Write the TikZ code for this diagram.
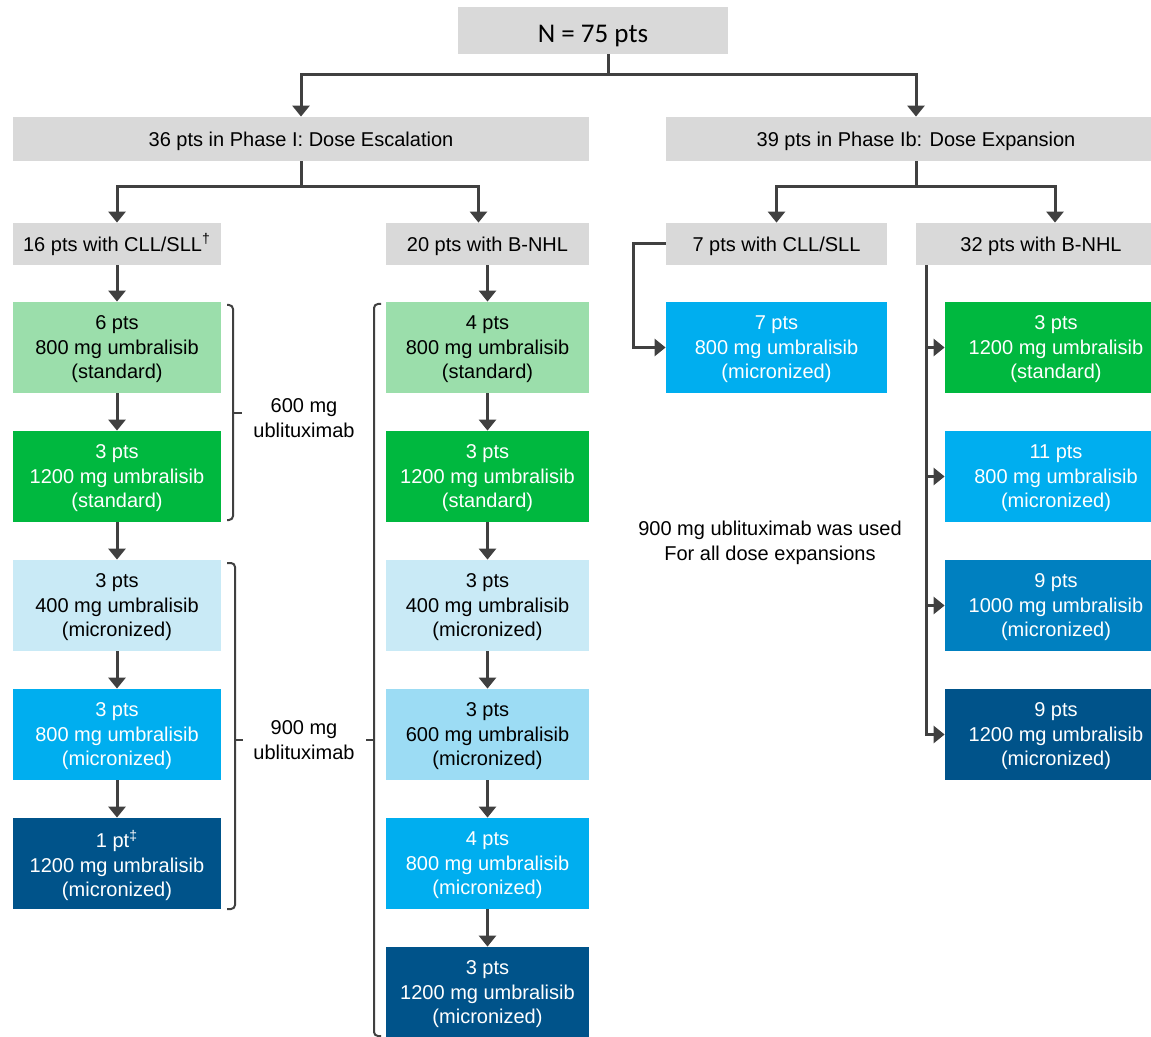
\documentclass[tikz,border=0pt]{standalone}
\usepackage{fontspec}
\setmainfont{Liberation Sans}
\newfontfamily\calibrifont{Carlito}
\usepackage{xcolor}
\usepackage{tikz}
\usetikzlibrary{arrows.meta}

\definecolor{hdrgray}{HTML}{D9D9D9}
\definecolor{linegray}{HTML}{404040}
\definecolor{palegreen}{HTML}{9BDEAB}
\definecolor{stdgreen}{HTML}{00B83F}
\definecolor{paleblue}{HTML}{C9EAF6}
\definecolor{lightblue}{HTML}{9CDCF4}
\definecolor{brightblue}{HTML}{00AEEF}
\definecolor{midblue}{HTML}{0080C0}
\definecolor{darkblue}{HTML}{00538A}

\newcommand{\boxfont}{\fontsize{10}{12.25}\selectfont}

\tikzset{
  box/.style={inner sep=0pt, align=center, font=\boxfont},
  hdr/.style={box, fill=hdrgray, minimum height=21pt, execute at begin node={\rule{0pt}{9.2pt}}},
  dose/.style={box, minimum height=45.5pt, text depth=-1.4pt},
  conn/.style={draw=linegray, line width=1.5pt},
  arr/.style={conn, -{Triangle[width=8.5pt,length=5.5pt]}},
  brace/.style={draw=linegray, line width=1pt, rounded corners=2pt},
}

\begin{document}
\begin{tikzpicture}[x=0.5pt,y=-0.5pt]
\useasboundingbox (0,0) rectangle (1151,1037);

% headers
\node[hdr, minimum width=135pt, minimum height=23.5pt, font=\calibrifont\fontsize{13.5}{16}\selectfont, execute at begin node={\rule{0pt}{14pt}}] (total) at (593,30.5) {N = 75 pts};
\node[hdr, minimum width=288pt, minimum height=22pt] (phaseI) at (301,139) {36 pts in Phase I: Dose Escalation};
\node[hdr, minimum width=250pt, minimum height=22pt] (phaseIb) at (916,139) {39 pts in Phase Ib: Dose Expansion};
\node[hdr, minimum width=104pt] (cll) at (117,244) {16 pts with CLL/SLL\textsuperscript{†}};
\node[hdr, minimum width=101.5pt] (bnhl) at (487.5,244) {20 pts with B-NHL};
\node[hdr, minimum width=110.5pt] (cllb) at (776.5,244) {7 pts with CLL/SLL};
\node[hdr, minimum width=125pt] (bnhlb) at (1041,244) {32 pts with B-NHL};

% dose escalation, CLL/SLL
\node[dose, minimum width=104pt, fill=palegreen] (l1) at (117,347.5) {6 pts\\800 mg umbralisib\\(standard)};
\node[dose, minimum width=104pt, fill=stdgreen, text=white] (l2) at (117,476.5) {3 pts\\1200 mg umbralisib\\(standard)};
\node[dose, minimum width=104pt, fill=paleblue] (l3) at (117,605.5) {3 pts\\400 mg umbralisib\\(micronized)};
\node[dose, minimum width=104pt, fill=brightblue, text=white] (l4) at (117,734.5) {3 pts\\800 mg umbralisib\\(micronized)};
\node[dose, minimum width=104pt, fill=darkblue, text=white] (l5) at (117,863.5) {1 pt\textsuperscript{‡}\\1200 mg umbralisib\\(micronized)};

% dose escalation, B-NHL
\node[dose, minimum width=101.5pt, fill=palegreen] (m1) at (487.5,347.5) {4 pts\\800 mg umbralisib\\(standard)};
\node[dose, minimum width=101.5pt, fill=stdgreen, text=white] (m2) at (487.5,476.5) {3 pts\\1200 mg umbralisib\\(standard)};
\node[dose, minimum width=101.5pt, fill=paleblue] (m3) at (487.5,605.5) {3 pts\\400 mg umbralisib\\(micronized)};
\node[dose, minimum width=101.5pt, fill=lightblue] (m4) at (487.5,734.5) {3 pts\\600 mg umbralisib\\(micronized)};
\node[dose, minimum width=101.5pt, fill=brightblue, text=white] (m5) at (487.5,863.5) {4 pts\\800 mg umbralisib\\(micronized)};
\node[dose, minimum width=101.5pt, fill=darkblue, text=white] (m6) at (487.5,992.5) {3 pts\\1200 mg umbralisib\\(micronized)};

% dose expansion
\node[dose, minimum width=110.5pt, fill=brightblue, text=white] (c1) at (776.5,347.5) {7 pts\\800 mg umbralisib\\(micronized)};
\node[dose, minimum width=111pt, fill=stdgreen, text=white] (r1) at (1056,347.5) {3 pts\\1200 mg umbralisib\\(standard)};
\node[dose, minimum width=111pt, fill=brightblue, text=white] (r2) at (1056,476.5) {11 pts\\800 mg umbralisib\\(micronized)};
\node[dose, minimum width=111pt, fill=midblue, text=white] (r3) at (1056,605.5) {9 pts\\1000 mg umbralisib\\(micronized)};
\node[dose, minimum width=111pt, fill=darkblue, text=white] (r4) at (1056,734.5) {9 pts\\1200 mg umbralisib\\(micronized)};

% labels
\node[box] (dose600) at (304,418) {600 mg\\ublituximab};
\node[box] (dose900) at (304,740) {900 mg\\ublituximab};
\node[box] (note) at (770,543) {900 mg ublituximab was used\\For all dose expansions};

% tree
\coordinate (split0) at (608,75);
\coordinate (split1) at (301,187);
\coordinate (split2) at (916,187);
\coordinate (rail) at (926,0);
\draw[conn] (split0 |- total.south) -- (split0);
\draw[arr] (split0) -| (phaseI);
\draw[arr] (split0) -| (phaseIb);
\draw[conn] (phaseI) -- (split1);
\draw[arr] (split1) -| (cll);
\draw[arr] (split1) -| ([xshift=-4.5pt]bnhl.north);
\draw[conn] (phaseIb) -- (split2);
\draw[arr] (split2) -| (cllb);
\draw[arr] (split2) -| ([xshift=7pt]bnhlb.north);

\foreach \a/\b in {cll/l1,l1/l2,l2/l3,l3/l4,l4/l5,bnhl/m1,m1/m2,m2/m3,m3/m4,m4/m5,m5/m6}
  \draw[arr] (\a) -- (\b);

\draw[arr] (cllb.west) -- ++(-32,0) |- (c1.west);
\draw[arr] (rail |- bnhlb.south) -- (rail |- r4.west) -- (r4.west);
\foreach \r in {r1,r2,r3}
  \draw[arr] (rail |- \r.west) -- (\r.west);

% brackets
\draw[brace] (227,305) -- (233,305) -- (233,520) -- (227,520);
\draw[brace] (233,413) -- (242,413);
\draw[brace] (227,563) -- (235,563) -- (235,909) -- (227,909);
\draw[brace] (235,740) -- (243,740);
\draw[brace] (381,304) -- (374,304) -- (374,1036) -- (381,1036);
\draw[brace] (374,740) -- (366,740);
\end{tikzpicture}
\end{document}
